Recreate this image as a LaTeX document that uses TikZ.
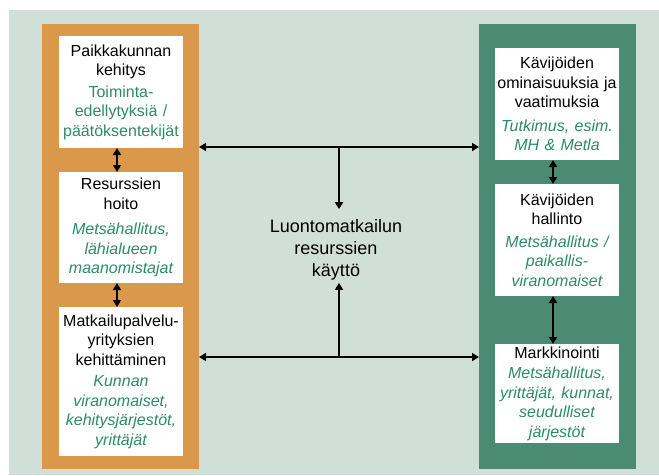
\documentclass[tikz,border=0pt]{standalone}
\usepackage{fontspec}
\setmainfont{Liberation Sans}
\usepackage{tikz}
\usepackage{xcolor}
\usetikzlibrary{positioning,arrows.meta}
\definecolor{bgcol}{RGB}{208,223,216}
\definecolor{orangecol}{RGB}{217,152,74}
\definecolor{greencol}{RGB}{75,139,115}
\definecolor{textgreen}{RGB}{46,139,102}

\begin{document}
\begin{tikzpicture}
[
x=1pt, y=-1pt,
panel-a/.style={fill=orangecol, inner sep=0pt, outer sep=0pt, minimum width=157pt, minimum height=445pt},
panel-b/.style={panel-a, fill=greencol},
box-a/.style={fill=white, inner sep=0pt, outer sep=0pt, text width=124pt, align=center, font=\fontsize{16}{19.5}\selectfont},
text-a/.style={inner sep=0pt, outer sep=0pt, align=center, font=\fontsize{18}{22}\selectfont},
link-a/.style={-{Triangle[length=7pt,width=8pt]}, line width=1.8pt},
link-b/.style={{Triangle[length=7pt,width=8pt]}-{Triangle[length=7pt,width=8pt]}, line width=1.8pt}
]
\useasboundingbox (0,0) rectangle (659,475);
\fill[bgcol] (9,10) rectangle (659,475);
\node (panel-l) [panel-a] at (120.5,246.5) {};
\node (panel-r) [panel-b] at (557.5,246.5) {};
\node (res-1)   [box-a, minimum height=112pt] at (121,92) {Paikkakunnan\\kehitys\\[2pt]\color{textgreen}Toiminta-\\edellytyksiä /\\päätöksentekijät};
\node (res-2)   [box-a, minimum height=111pt, below = 24.00pt of res-1] {Resurssien\\hoito\\[6pt]\color{textgreen}\itshape Metsähallitus,\\lähialueen\\maanomistajat};
\node (res-3)   [box-a, minimum height=149pt, below = 24.00pt of res-2] {Matkailupalvelu-\\yrityksien\\kehittäminen\\[2pt]\color{textgreen}\itshape Kunnan\\viranomaiset,\\kehitysjärjestöt,\\yrittäjät};
\node (vis-1)   [box-a, minimum height=112pt] at (557,104) {Kävijöiden\\ominaisuuksia ja\\vaatimuksia\\[4pt]\color{textgreen}\itshape Tutkimus, esim.\\MH \& Metla};
\node (vis-2)   [box-a, minimum height=112pt, below = 24.00pt of vis-1] {Kävijöiden\\hallinto\\[3pt]\color{textgreen}\itshape Metsähallitus /\\paikallis-\\viranomaiset};
\node (vis-3)   [box-a, minimum height=99pt,  below = 48.00pt of vis-2] {Markkinointi\\[1pt]\color{textgreen}\itshape Metsähallitus,\\yrittäjät, kunnat,\\seudulliset\\järjestöt};
\node (hub)     [text-a] at (336,249.5) {Luontomatkailun\\resurssien\\käyttö};
\coordinate (junc-t) at (339,147);
\coordinate (junc-b) at (339,357);
\coordinate (hub-t)  at ([yshift=10pt]hub.north);
\coordinate (hub-b)  at ([yshift=-3pt]hub.south);
\draw[link-b] (panel-l.east |- junc-t) -- (panel-r.west |- junc-t);
\draw[link-b] (panel-l.east |- junc-b) -- (panel-r.west |- junc-b);
\draw[link-a] (junc-t) -- (junc-t |- hub-t);
\draw[link-a] (junc-b) -- (junc-b |- hub-b);
\draw[link-b] ([xshift=-4pt]res-1.south) -- ([xshift=-4pt]res-2.north);
\draw[link-b] ([xshift=-4pt]res-2.south) -- ([xshift=-4pt]res-3.north);
\draw[link-b] ([xshift=-4pt]vis-1.south) -- ([xshift=-4pt]vis-2.north);
\draw[link-b] ([xshift=-4pt]vis-2.south) -- ([xshift=-4pt]vis-3.north);
\end{tikzpicture}
\end{document}
